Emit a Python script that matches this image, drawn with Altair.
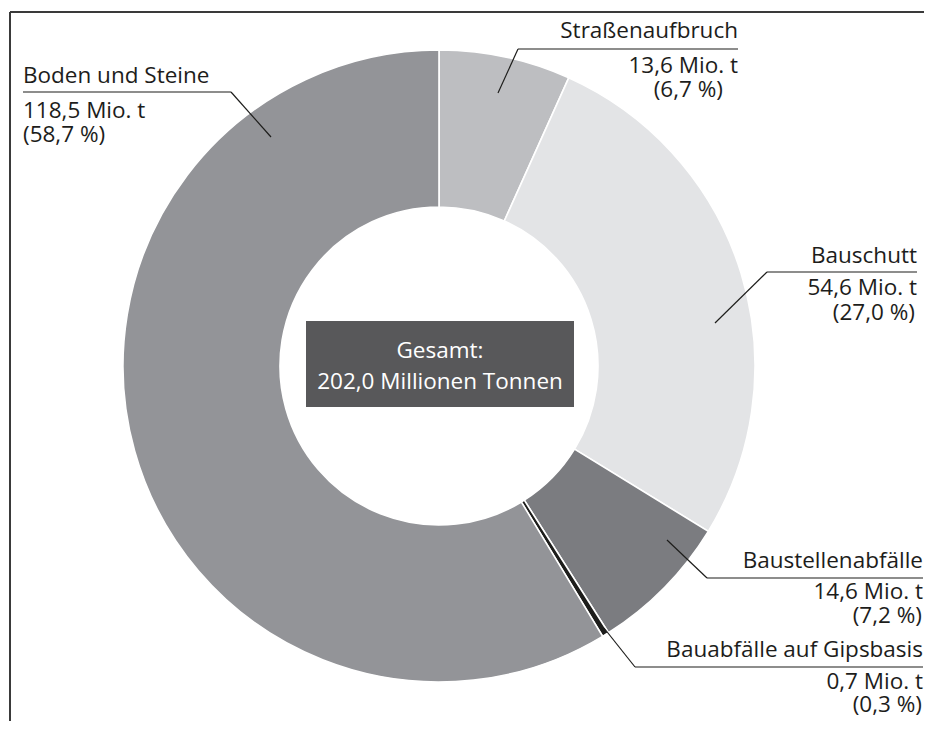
import altair as alt
import pandas as pd

# ---- data ----
categories = ["Straßenaufbruch", "Bauschutt", "Baustellenabfälle",
              "Bauabfälle auf Gipsbasis", "Boden und Steine"]
values = [13.6, 54.6, 14.6, 0.7, 118.5]
colors = ["#bdbec1", "#e3e4e6", "#7b7c80", "#1d1d1b", "#939498"]
total_lines = ["Gesamt:", "202,0 Millionen Tonnen"]

total = sum(values)


def de(v):
    return f"{v:.1f}".replace(".", ",")


amount_labels = [f"{de(v)} Mio. t" for v in values]
pct_labels = [f"({de(v / total * 100)} %)" for v in values]

# ---- layout (page pixel positions of the annotations) ----
OFF = 8  # page margin
CX, CY, R_OUT, R_IN = 439, 366, 316, 159
FONT = "Open Sans"
FS = 22.5
TXT = "#1d1d1b"

layout = {
    # align, text x, baselines (3 lines), x of line 3, rule x0,x1,y, leader end
    "Straßenaufbruch": ("right", 738, (38, 73, 97), 723, (518, 738, 49), (498, 93)),
    "Bauschutt": ("right", 917, (263, 295, 320), 915, (767, 917, 272), (715, 323)),
    "Baustellenabfälle": ("right", 923, (568, 599, 623), 922, (707, 923, 578), (667, 540)),
    "Bauabfälle auf Gipsbasis": ("right", 923, (657, 689, 712), 922, (635, 923, 667), (604, 628)),
    "Boden und Steine": ("left", 23, (83, 118, 142), 23, (231, 23, 92), (271, 137)),
}

donut_df = pd.DataFrame({"cat": categories, "value": values, "idx": range(len(values))})

text_rows, rule_rows = [], []
for i, c in enumerate(categories):
    align, tx, (b1, b2, b3), tx3, (rx0, rx1, ry), (lx, ly) = layout[c]
    for t, x, y in [(c, tx, b1), (amount_labels[i], tx, b2), (pct_labels[i], tx3, b3)]:
        text_rows.append({"t": t, "x": x - OFF, "y": y - OFF, "align": align})
    rule_rows.append({"x": rx0 - OFF, "y": ry - OFF, "x2": rx1 - OFF, "y2": ry - OFF})
    rule_rows.append({"x": rx0 - OFF, "y": ry - OFF, "x2": lx - OFF, "y2": ly - OFF})
text_df = pd.DataFrame(text_rows)
rule_df = pd.DataFrame(rule_rows)

frame_df = pd.DataFrame([
    {"x": 10 - OFF, "y": 12 - OFF, "x2": 940 - OFF, "y2": 12 - OFF},
    {"x": 10 - OFF, "y": 12 - OFF, "x2": 10 - OFF, "y2": 740 - OFF},
])

box_df = pd.DataFrame([{"x": 306 - OFF, "x2": 574 - OFF, "y": 321 - OFF, "y2": 407 - OFF}])
center_df = pd.DataFrame([
    {"t": total_lines[0], "x": 440 - OFF, "y": 358 - OFF},
    {"t": total_lines[1], "x": 440 - OFF, "y": 389 - OFF},
])


def px(f):
    return alt.X(f"{f}:Q", scale=None, axis=None)


def py(f):
    return alt.Y(f"{f}:Q", scale=None, axis=None)


donut = alt.Chart(donut_df).mark_arc(
    outerRadius=R_OUT, innerRadius=R_IN, stroke="white", strokeWidth=1.6
).encode(
    theta=alt.Theta("value:Q", stack=True),
    color=alt.Color("cat:N", scale=alt.Scale(domain=categories, range=colors), legend=None),
    order=alt.Order("idx:Q"),
    x=alt.value(CX - OFF),
    y=alt.value(CY - OFF),
)

frame = alt.Chart(frame_df).mark_rule(color="#3a3a3a", strokeWidth=2).encode(
    x=px("x"), y=py("y"), x2="x2:Q", y2="y2:Q"
)

leaders = alt.Chart(rule_df).mark_rule(color=TXT, strokeWidth=1.2).encode(
    x=px("x"), y=py("y"), x2="x2:Q", y2="y2:Q"
)

text_right = alt.Chart(text_df[text_df["align"] == "right"]).mark_text(
    align="right", baseline="alphabetic", font=FONT, fontSize=FS, color=TXT
).encode(x=px("x"), y=py("y"), text="t:N")

text_left = alt.Chart(text_df[text_df["align"] == "left"]).mark_text(
    align="left", baseline="alphabetic", font=FONT, fontSize=FS, color=TXT
).encode(x=px("x"), y=py("y"), text="t:N")

box = alt.Chart(box_df).mark_rect(color="#58585a").encode(
    x=px("x"), x2="x2:Q", y=py("y"), y2="y2:Q"
)

center_text = alt.Chart(center_df).mark_text(
    align="center", baseline="alphabetic", font=FONT, fontSize=FS, color="white"
).encode(x=px("x"), y=py("y"), text="t:N")

chart = alt.layer(
    donut, frame, leaders, text_right, text_left, box, center_text
).properties(
    width=916, height=713, padding=0, autosize=alt.AutoSizeParams(type="none"),
    background="white",
).configure_view(stroke=None)

chart.save("out.html", embed_options={"renderer": "svg", "actions": False})
